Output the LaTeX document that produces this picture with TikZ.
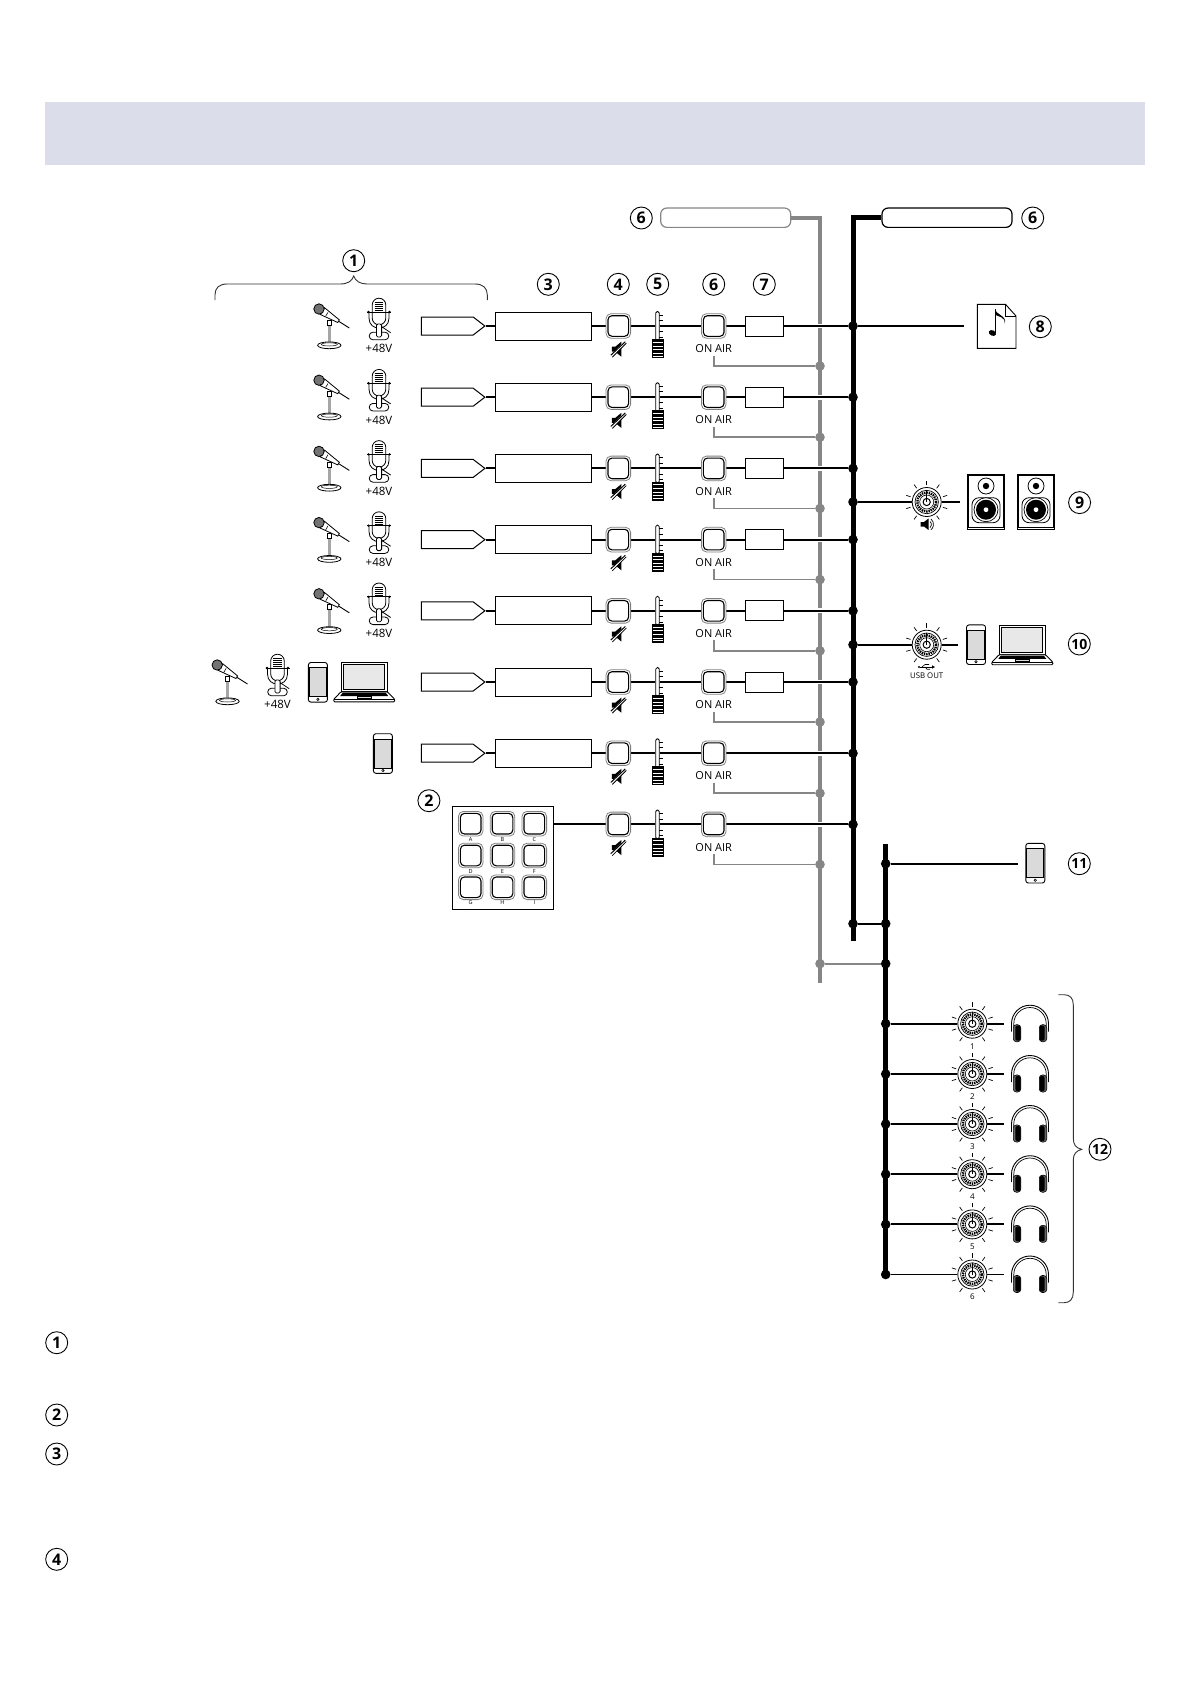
\documentclass[tikz,border=0pt]{standalone}
\usepackage{fontspec}
\setmainfont{Open Sans}
\usetikzlibrary{backgrounds,shapes.symbols,shapes.geometric}
\definecolor{busgray}{HTML}{868686}
\definecolor{band}{HTML}{DCDDEA}
\definecolor{scr}{HTML}{DADADA}
\definecolor{scrl}{HTML}{E8E8E8}
\newcommand{\fs}[1]{\fontsize{#1}{#1}\selectfont}
\tikzset{
  num/.style={circle,draw=black,line width=.9pt,fill=white,minimum size=22pt,inner sep=0pt,font=\fs{16}\bfseries},
  numb/.style={num,font=\fs{14}\bfseries},
  pentnode/.style={signal,signal to=east,signal pointer angle=75,draw=black,line width=1pt,fill=white,minimum width=63.4pt,minimum height=18pt,inner sep=0pt,anchor=east},
  rowbox/.style={rectangle,draw=black,line width=1pt,fill=white,minimum width=96.4pt,minimum height=28pt,inner sep=0pt},
  smallbox/.style={rectangle,draw=black,line width=.9pt,fill=white,minimum width=38.4pt,minimum height=20pt,inner sep=0pt},
  btnout/.style={rectangle,rounded corners=5pt,draw=black!50,line width=.8pt,fill=white,minimum size=24.6pt,inner sep=0pt},
  btnin/.style={rectangle,rounded corners=4pt,draw=black,line width=1.1pt,fill=white,minimum size=20.6pt,inner sep=0pt},
  slot/.style={rectangle,rounded corners=1.6pt,draw=black,line width=.8pt,fill=white,minimum width=3.6pt,minimum height=29pt,inner sep=0pt},
  lbl/.style={inner sep=0pt,font=\fs{11}},
  mv/.style={inner sep=0pt,font=\fs{11.5}},
  blackdot/.style={circle,fill=black,minimum size=9.6pt,inner sep=0pt},
  graydot/.style={circle,fill=busgray,minimum size=9.6pt,inner sep=0pt},
  rowline/.style={line width=1.9pt,draw=black},
  halo/.style={rowline,preaction={draw=white,line width=4.7pt}},
  grayline/.style={line width=1.6pt,draw=busgray},
  graybus/.style={line width=4.2pt,draw=busgray},
  blackbus/.style={line width=5pt,draw=black},
  pill/.style={rectangle,rounded corners=6pt,line width=1.2pt,fill=white,minimum width=130pt,minimum height=19.3pt,inner sep=0pt},
  knobnode/.style={circle,draw=black,line width=.8pt,fill=white,minimum size=29pt,inner sep=0pt},
  phonenode/.style={rectangle,rounded corners=2.5pt,draw=black,line width=.9pt,fill=white,minimum width=19pt,minimum height=39.6pt,inner sep=0pt},
  spk/.style={rectangle,draw=black,line width=.9pt,fill=white,minimum width=37.4pt,minimum height=55pt,inner sep=0pt},
  dynmic/.pic={
    \draw[line width=2.4pt,black!35] (0,-2) -- (0,18);
    \draw[line width=.8pt,fill=white] (0,19.3) ellipse (11.7 and 3.4);
    \draw[line width=.5pt] (0,18.4) ellipse (8 and 1.6);
    \draw[line width=.7pt,fill=white] (-2.2,-6) rectangle (2.2,-1);
    \draw[line width=.9pt] (9.25,-4.8) -- (20,2);
    \draw[line width=.8pt,fill=white] (-9,-11.5) -- (-4.8,-18.3) -- (10.05,-6.1) -- (8.45,-3.5) -- cycle;
    \draw[line width=.6pt] (-1.4,-13.6) -- (-3.6,-9.8);
    \draw[line width=.8pt,fill=black!55] (-10.3,-17) circle (5.2);
  },
  condmic/.pic={
    \draw[line width=.8pt] (-10,-14) -- (-10,-8) .. controls (-10,-1) and (-5,2) .. (0,2) .. controls (5,2) and (10,-1) .. (10,-8) -- (10,-14);
    \draw[line width=.8pt,fill=white] (-6.8,-21) arc (180:360:6.8) -- (6.8,-8) arc (0:180:6.8) -- cycle;
    \foreach \q in {-23.5,-21.5,-19.5,-17.5,-15.5} \draw[line width=1.1pt] (-4.4,\q) -- (4.4,\q);
    \draw[line width=.7pt] (-12,-14) -- (12,-14);
    \fill (-10.5,-14) circle (1.3) (10.5,-14) circle (1.3);
    \draw[line width=.8pt,fill=white] (-6,6.2) -- (6,6.2) arc (-90:90:3.8) -- (-6,13.8) arc (90:270:3.8) -- cycle;
    \draw[line width=.8pt,fill=white,rounded corners=1.5pt] (-2.6,-2) rectangle (2.6,11);
    \draw[line width=.8pt] (2.7,.7) -- (11.7,6.7);
  },
  mutesign/.pic={
    \fill (-6.5,-2.5) -- (-3,-2.5) -- (3,-7.5) -- (3,7.5) -- (-3,2.5) -- (-6.5,2.5) -- cycle;
    \draw[white,line width=2.2pt] (-7,7) -- (7,-7);
    \draw[line width=1pt] (-7.5,6) -- (7,-7.5);
    \draw[line width=.8pt] (-6,8) -- (8,-6);
  },
  fadercap/.pic={
    \fill (-6,13.2) rectangle (6,32.2);
    \foreach \q in {16.4,20,23.6,27.2,30} \draw[white,line width=1pt] (-5,\q) -- (5,\q);
    \foreach \q in {-11,-5.5,5.5,11} \draw[line width=.6pt] (1.8,\q) -- (5.2,\q);
  },
  knobdetail/.pic={
    \foreach \a in {-90,-54,-18,18,54,-126,-162,-198,-234} \draw[line width=.7pt] (\a:17) -- (\a:21.5);
    \draw[line width=2.4pt,dash pattern=on 1.4pt off .9pt] (0,0) circle (9.4);
    \draw[line width=.7pt] (0,0) circle (11.7);
    \draw[line width=.6pt,fill=white] (0,0) circle (7);
    \draw[line width=1pt] (0,0) circle (3.6);
    \draw[line width=1pt] (0,0) -- (0,-12);
  },
  phonedetail/.pic={
    \draw[line width=.9pt,fill=scr] (-8.6,-14.5) rectangle (8.6,14.5);
    \draw[line width=.6pt] (0,17) circle (1.2);
  },
  laptop/.pic={
    \draw[line width=.9pt,fill=white] (-23.2,0) -- (-23.2,-29.4) -- (23.2,-29.4) -- (23.2,0) -- cycle;
    \draw[line width=.9pt,fill=scrl] (-20.5,-2.5) rectangle (20.5,-27);
    \draw[line width=.9pt,fill=white,rounded corners=1pt] (-23.2,0) -- (23.2,0) -- (30.5,7.5) -- (30.5,10) -- (-30.5,10) -- (-30.5,7.5) -- cycle;
    \fill (-21.5,.9) -- (21.5,.9) -- (24,4.2) -- (-24,4.2) -- cycle;
    \draw[line width=.5pt,fill=scr] (-7,4.6) rectangle (7,6.6);
    \draw[line width=.5pt] (-30,7.5) -- (30,7.5);
  },
  spkdetail/.pic={
    \draw[line width=1pt] (-17.2,-26) rectangle (17.2,26);
    \draw[line width=.8pt,fill=white] (0,-15.7) circle (8);
    \fill (0,-15.7) circle (3.2);
    \draw[line width=.8pt,rounded corners=7pt] (-14,-4) rectangle (14,21);
    \draw[line width=.7pt,fill=white] (0,8) circle (12);
    \fill (0,8) circle (10);
    \fill[white] (0,8) circle (2.4);
  },
  phones/.pic={
    \draw[line width=.9pt] (-18.5,8) -- (-18.5,0) arc (180:360:18.5) -- (18.5,8);
    \draw[line width=.7pt] (-16.2,3) -- (-16.2,0) arc (180:360:16.2) -- (16.2,3);
    \foreach \s in {-1,1} {
      \draw[line width=.6pt,fill=black!60,rounded corners=3pt] (\s*16.7,1) rectangle (\s*9.3,18);
      \fill[rounded corners=2pt] (\s*14.7,2) rectangle (\s*9.5,17);
    }
  }
}
\begin{document}
\begin{tikzpicture}[x=1pt,y=-1pt]
\useasboundingbox (0,0) rectangle (1191,1684);
\fill[band] (45,102) rectangle (1145,164.5);

% pills and buses
\node[pill,draw=busgray] (pillG) at (725.7,217.7) {};
\node[pill,draw=black] (pillB) at (947,217.7) {};
\coordinate (gTop) at (820,217.7);
\coordinate (gBot) at (820,983);
\coordinate (bTop) at (853,217.7);
\coordinate (bBot) at (853,940.5);
\coordinate (sTop) at (885.7,844);
\coordinate (sBot) at (885.7,1274.5);

% row numbers
\node[num] (n6a) at (641.3,218) {6};
\node[num] (n6b) at (1032.7,218) {6};
\node[num] (n1) at (353.7,260.7) {1};
\node[num] (n3) at (548.3,284.3) {3};
\node[num] (n4) at (618.3,284.3) {4};
\node[num] (n5) at (657.7,284.3) {5};
\node[num] (n6c) at (713.7,284.3) {6};
\node[num] (n7) at (764.3,284.3) {7};
\node[num] (n2) at (428.9,800.7) {2};
\node[num] (n8) at (1040.3,326.7) {8};
\node[num] (n9) at (1079.6,502.6) {9};
\node[numb] (n10) at (1079.3,644) {10};
\node[numb] (n11) at (1079.3,863.7) {11};
\node[numb] (n12) at (1100,1149.3) {12};
\node[num] (l1) at (56.7,1342.7) {1};
\node[num] (l2) at (56.7,1415) {2};
\node[num] (l3) at (56.7,1454) {3};
\node[num] (l4) at (56.7,1559.3) {4};

% braces
\draw[line width=.9pt,draw=black!80] (215,300) -- (215,295) .. controls (215,288) and (219,284) .. (227,284) -- (340,284) .. controls (348,284) and (352,281) .. (353.7,276) .. controls (355.5,281) and (360,284) .. (367,284) -- (475,284) .. controls (483,284) and (487.3,288) .. (487.3,295) -- (487.3,300);
\draw[line width=.9pt,draw=black!80] (1058.3,994.7) -- (1064,994.7) .. controls (1070,994.7) and (1073.3,998) .. (1073.3,1005) -- (1073.3,1138) .. controls (1073.3,1145) and (1076,1148) .. (1081.7,1149.3) .. controls (1076,1151) and (1073.3,1154) .. (1073.3,1160) -- (1073.3,1292) .. controls (1073.3,1299) and (1070,1302.7) .. (1064,1302.7) -- (1058.3,1302.7);

% channel strips
\foreach \i/\y in {1/326,2/397.2,3/468.4,4/539.6,5/610.8,6/682,7/753.2,8/824.4} {
  \node[btnout] (m\i) at (618.3,\y) {};
  \node[btnin] (mi\i) at (618.3,\y) {};
  \pic at (618.3,\y+23.2) {mutesign};
  \node[slot] (fs\i) at (657.5,\y) {};
  \pic at (657.5,\y) {fadercap};
  \node[btnout] (o\i) at (713.7,\y) {};
  \node[btnin] (oi\i) at (713.7,\y) {};
  \node[lbl] (oa\i) at (713.7,\y+22.7) {ON AIR};
  \coordinate (fb\i) at (713.7,\y+29.5);
  \node[blackdot] (bd\i) at (853,\y) {};
  \node[graydot] (gd\i) at (820,\y+40) {};
}
\foreach \i/\y in {1/326,2/397.2,3/468.4,4/539.6,5/610.8,6/682,7/753.2} {
  \node[pentnode] (pe\i) at (485.7,\y) {};
  \node[rowbox] (bx\i) at (543.5,\y) {};
}
\foreach \i/\y in {1/326,2/397.2,3/468.4,4/539.6,5/610.8,6/682} {
  \node[smallbox] (sb\i) at (764.5,\y) {};
}
\foreach \i/\y in {1/326,2/397.2,3/468.4,4/539.6,5/610.8} {
  \pic at (329.3,\y) {dynmic};
  \pic at (379,\y) {condmic};
  \node[mv] (v\i) at (379,\y+22.7) {+48V};
}
% row 6 sources
\pic at (227.5,682) {dynmic};
\pic at (277.5,682) {condmic};
\node[mv] (v6) at (277.5,704.7) {+48V};
\node[phonenode] (ph6) at (317.9,682.3) {};
\pic at (317.9,682.3) {phonedetail};
\pic at (364.2,691.8) {laptop};
% row 7 source
\node[phonenode] (ph7) at (382.9,753.5) {};
\pic at (382.9,753.5) {phonedetail};

% pads
\node[rectangle,draw=black,line width=1pt,fill=white,minimum width=101pt,minimum height=103pt,inner sep=0pt] (pad) at (503,857.8) {};
\foreach \n/\px/\py/\t in {a/470.7/823.7/A,b/502.5/823.7/B,c/534.3/823.7/C,d/470.7/855.5/D,e/502.5/855.5/E,f/534.3/855.5/F,g/470.7/887.3/G,h/502.5/887.3/H,j/534.3/887.3/I} {
  \node[btnout] (p\n) at (\px,\py) {};
  \node[btnin] (pi\n) at (\px,\py) {};
  \node[inner sep=0pt,font=\fs{5.5}] (pt\n) at (\px,\py+15.7) {\t};
}

% outputs
\coordinate (fileEnd) at (964,326);
\draw[line width=.9pt,fill=white] (977.3,304.3) -- (1005.5,304.3) -- (1016,316) -- (1016,348.3) -- (977.3,348.3) -- cycle;
\draw[line width=.7pt] (1005.5,304.3) -- (1005.5,316) -- (1016,316);
\fill[rotate around={-25:(992.4,333)}] (992.4,333) ellipse (3.8 and 2.7);
\draw[line width=1.1pt] (995.5,332.5) -- (995.5,309);
\fill (995,309) .. controls (996,315) and (1008,316) .. (1004.5,324) .. controls (1006,316.5) and (998,317) .. (995,314.5) -- cycle;

\node[blackdot] (bs) at (853,502) {};
\node[knobnode] (ks) at (926.7,502) {};
\pic at (926.7,502) {knobdetail};
\coordinate (ksEnd) at (960,502);
\fill (920.5,522) rectangle (924,526.5) (924,522) -- (928.5,518.5) -- (928.5,530) -- (924,526.5) -- cycle;
\draw[line width=.7pt] (930,521.5) arc (-50:50:4) (931,519) arc (-50:50:7);
\node[spk] (sp1) at (986,501.7) {};
\pic at (986,501.7) {spkdetail};
\node[spk] (sp2) at (1036,501.7) {};
\pic at (1036,501.7) {spkdetail};

\node[blackdot] (bu) at (853,644.7) {};
\node[knobnode] (ku) at (926.7,644.7) {};
\pic at (926.7,644.7) {knobdetail};
\coordinate (kuEnd) at (958,644.7);
\draw[line width=.7pt] (920,667) -- (933,667);
\fill (919,667) circle (1.2);
\fill (935,667) -- (932,665.3) -- (932,668.7) -- cycle;
\draw[line width=.6pt] (922,667) -- (925,664.5) -- (929,664.5) (925,667) -- (927,669.2) -- (930,669.2);
\node[inner sep=0pt,font=\fs{7.8}] (usbt) at (926.7,675.7) {USB OUT};
\node[phonenode] (ph10) at (976,644.7) {};
\pic at (976,644.7) {phonedetail};
\pic at (1022.3,654.7) {laptop};

\node[blackdot] (s11) at (885.7,863.7) {};
\coordinate (s11End) at (1017.7,863.7);
\node[phonenode] (ph11) at (1035.3,863.2) {};
\pic at (1035.3,863.2) {phonedetail};

\node[blackdot] (j1) at (853,923.7) {};
\node[blackdot] (j2) at (885.7,923.7) {};
\node[graydot] (j3) at (820,963.7) {};
\node[blackdot] (j4) at (885.7,963.7) {};

\foreach \i/\y/\t in {1/1023.7/1,2/1074/2,3/1124/3,4/1174.2/4,5/1224.4/5,6/1274.5/6} {
  \node[blackdot] (hd\i) at (885.7,\y) {};
  \node[knobnode] (hk\i) at (972.3,\y) {};
  \pic at (972.3,\y) {knobdetail};
  \coordinate (he\i) at (1003.7,\y);
  \node[inner sep=0pt,font=\fs{8}] (ht\i) at (972.3,\y+22.5) {\t};
  \pic at (1030,\y) {phones};
}

% buses on top of channel dots
\begin{scope}[on background layer]
  \draw[graybus] (pillG.east) -- (gTop) -- (gBot);
  \foreach \i in {1,...,8} \draw[grayline] (fb\i) |- (gd\i);
  \draw[grayline] (j3) -- (j4);
  \foreach \i in {1,...,6} {
    \draw[rowline] (pe\i) -- (bx\i) -- (m\i) -- (fs\i) -- (o\i) -- (sb\i);
    \draw[halo] (sb\i) -- (bd\i);
  }
  \draw[rowline] (pe7) -- (bx7) -- (m7) -- (fs7) -- (o7);
  \draw[halo] (o7) -- (bd7);
  \draw[rowline] (pad.east |- m8) -- (m8) -- (fs8) -- (o8);
  \draw[halo] (o8) -- (bd8);
  \draw[rowline] (bd1) -- (fileEnd);
  \draw[rowline] (bs) -- (ks) -- (ksEnd);
  \draw[rowline] (bu) -- (ku) -- (kuEnd);
  \draw[rowline] (s11) -- (s11End);
  \draw[rowline] (j1) -- (j2);
  \foreach \i in {1,...,6} \draw[rowline] (hd\i) -- (hk\i) -- (he\i);
  \draw[blackbus] (pillB.west) -- (bTop) -- (bBot);
  \draw[blackbus] (sTop) -- (sBot);
\end{scope}
\end{tikzpicture}
\end{document}
